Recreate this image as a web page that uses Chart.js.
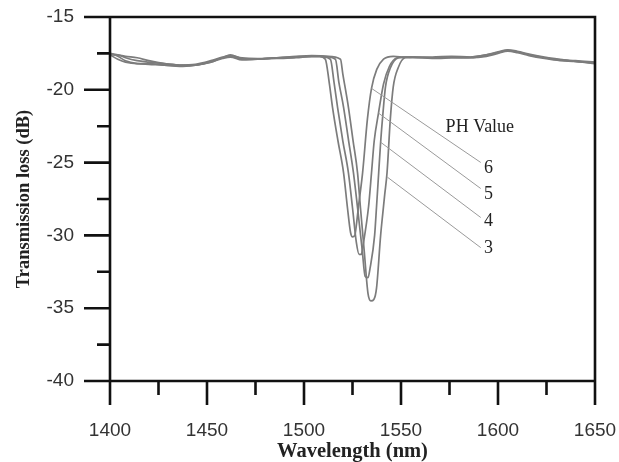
<!DOCTYPE html>
<html>
<head>
<meta charset="utf-8">
<script src="https://cdn.jsdelivr.net/npm/chart.js@4.4.1/dist/chart.umd.min.js"></script>
<style>
  html, body { margin: 0; padding: 0; background: #ffffff; }
  #wrap { width: 619px; height: 462px; }
</style>
</head>
<body>
<div id="wrap"><canvas id="c" width="619" height="462"></canvas></div>
<script>
// ---------------- DATA ----------------
const xTickValues = [1400, 1450, 1500, 1550, 1600, 1650];
const yTickValues = [-15, -20, -25, -30, -35, -40];
const seriesNames = ["6", "5", "4", "3"];

// PH 6
const ph6Wavelength = [1400, 1404, 1408, 1414, 1420, 1428, 1436, 1444, 1452, 1458, 1462, 1468, 1476, 1486, 1496, 1504,
  1508, 1511, 1513, 1514.7, 1517.5, 1520.4, 1522.4, 1524, 1525, 1526.2, 1526.8, 1528.1, 1530.2, 1532.7, 1534.8, 1537.5, 1541, 1546, 1551,
  1556, 1566, 1576, 1586, 1594, 1600, 1605, 1610, 1616, 1624, 1632, 1640, 1650];
const ph6Loss = [-17.6, -17.9, -18.1, -18.2, -18.2, -18.3, -18.35, -18.3, -18.1, -17.8, -17.7, -17.9, -17.9, -17.8, -17.75, -17.7,
  -17.7, -17.9, -19.5, -21.2, -23.5, -25.7, -28.1, -29.8, -30.1, -30.0, -29.5, -28.0, -25.7, -22.0, -19.9, -18.6, -17.9, -17.7, -17.75,
  -17.8, -17.8, -17.75, -17.8, -17.65, -17.45, -17.3, -17.4, -17.6, -17.8, -17.95, -18.0, -18.1];

// PH 5
const ph5Wavelength = [1400, 1404, 1408, 1414, 1420, 1428, 1436, 1444, 1452, 1458, 1462, 1468, 1476, 1486, 1496, 1504,
  1508, 1513.6, 1515.5, 1517.3, 1520, 1522.9, 1525, 1527, 1528.4, 1529.6, 1530.3, 1533.3, 1534.8, 1536.2, 1538.4, 1541, 1544, 1548, 1552,
  1556, 1566, 1576, 1586, 1594, 1600, 1605, 1610, 1616, 1624, 1632, 1640, 1650];
const ph5Loss = [-17.5, -17.7, -18.0, -18.2, -18.25, -18.3, -18.4, -18.3, -18.1, -17.85, -17.75, -17.95, -17.9, -17.85, -17.8, -17.7,
  -17.7, -17.9, -19.5, -21.2, -23.5, -25.7, -28.1, -30.5, -31.3, -31.3, -30.8, -28.0, -25.7, -23.5, -21.6, -19.6, -18.4, -17.8, -17.75,
  -17.75, -17.85, -17.8, -17.75, -17.6, -17.4, -17.25, -17.35, -17.55, -17.75, -17.9, -18.05, -18.15];

// PH 4
const ph4Wavelength = [1400, 1404, 1408, 1414, 1420, 1428, 1436, 1444, 1452, 1458, 1462, 1468, 1476, 1486, 1496, 1504,
  1510, 1516.2, 1518, 1520.4, 1523, 1525.5, 1527.6, 1530, 1531.5, 1533, 1534, 1536.4, 1537.4, 1538.5, 1539.5, 1540.7, 1542, 1544.5, 1548.8, 1553,
  1556, 1566, 1576, 1586, 1594, 1600, 1605, 1610, 1616, 1624, 1632, 1640, 1650];
const ph4Loss = [-17.6, -17.6, -17.8, -18.0, -18.1, -18.2, -18.3, -18.3, -18.05, -17.8, -17.6, -17.85, -17.9, -17.8, -17.75, -17.7,
  -17.7, -17.9, -19.5, -21.2, -23.5, -25.7, -28.1, -31.0, -32.8, -32.9, -32.3, -30.0, -28.0, -25.7, -23.6, -21.6, -19.8, -18.5, -17.8, -17.75,
  -17.75, -17.8, -17.8, -17.8, -17.7, -17.5, -17.35, -17.45, -17.65, -17.85, -18.0, -18.05, -18.2];

// PH 3
const ph3Wavelength = [1400, 1404, 1408, 1414, 1420, 1428, 1436, 1444, 1452, 1458, 1462, 1468, 1476, 1486, 1496, 1504,
  1512, 1518.8, 1520, 1522.9, 1525.3, 1527.6, 1529.1, 1531, 1533, 1534.5, 1536, 1537.4, 1539.5, 1540.6, 1541.6, 1542.8, 1544.5, 1546, 1548.5, 1552,
  1556, 1566, 1576, 1586, 1594, 1600, 1605, 1610, 1616, 1624, 1632, 1640, 1650];
const ph3Loss = [-17.5, -17.6, -17.7, -17.8, -18.0, -18.2, -18.3, -18.25, -18.0, -17.75, -17.65, -17.8, -17.85, -17.8, -17.7, -17.65,
  -17.7, -17.9, -18.9, -21.2, -23.5, -25.7, -28.1, -31.0, -34.0, -34.5, -34.4, -33.6, -30.0, -28.5, -27.2, -25.7, -22.0, -19.8, -18.5, -17.8,
  -17.75, -17.75, -17.7, -17.75, -17.6, -17.45, -17.3, -17.4, -17.6, -17.8, -17.95, -18.05, -18.15];

// Annotation (leader lines from each curve to its PH label)
const leaderStartWl = [1534.8, 1538.4, 1539.5, 1543.0];
const leaderStartLoss = [-19.9, -21.6, -23.6, -26.0];
const leaderEndWl = [1591.1, 1591.1, 1591.1, 1591.1];
const leaderEndLoss = [-24.99, -26.78, -28.77, -30.84];
const labelWl = 1592.8;
const labelLoss = [-25.4, -27.2, -29.05, -30.9];
const legendTitle = "PH Value";
const legendTitleWl = 1573;
const legendTitleLoss = -22.6;

// -------------- BUILD --------------
function pts(xs, ys) { return xs.map((v, i) => ({ x: v, y: ys[i] })); }
const seriesWl = [ph6Wavelength, ph5Wavelength, ph4Wavelength, ph3Wavelength];
const seriesLoss = [ph6Loss, ph5Loss, ph4Loss, ph3Loss];

const datasets = seriesNames.map((n, i) => ({
  label: "PH " + n,
  data: pts(seriesWl[i], seriesLoss[i]),
  borderColor: "#7c7c7c",
  borderWidth: 1.7,
  pointRadius: 0,
  fill: false,
  cubicInterpolationMode: "monotone"
}));

const X_MIN = 1400, X_MAX = 1650, Y_MIN = -40, Y_MAX = -15;

function zeroPad(s) { s.paddingTop = 0; s.paddingBottom = 0; s.paddingLeft = 0; s.paddingRight = 0; }

const framePlugin = {
  id: "frame",
  afterDatasetsDraw(chart) {
    const { ctx, scales: { x, y } } = chart;
    const L = x.getPixelForValue(X_MIN), R = x.getPixelForValue(X_MAX);
    const T = y.getPixelForValue(Y_MAX), B = y.getPixelForValue(Y_MIN);
    ctx.save();
    // leader lines
    ctx.strokeStyle = "#9a9a9a";
    ctx.lineWidth = 1;
    for (let i = 0; i < leaderStartWl.length; i++) {
      ctx.beginPath();
      ctx.moveTo(x.getPixelForValue(leaderStartWl[i]), y.getPixelForValue(leaderStartLoss[i]));
      ctx.lineTo(x.getPixelForValue(leaderEndWl[i]), y.getPixelForValue(leaderEndLoss[i]));
      ctx.stroke();
    }
    // labels
    ctx.fillStyle = "#222";
    ctx.font = "18px 'Liberation Serif', serif";
    ctx.textAlign = "left";
    ctx.textBaseline = "middle";
    ctx.fillText(legendTitle, x.getPixelForValue(legendTitleWl), y.getPixelForValue(legendTitleLoss));
    for (let i = 0; i < seriesNames.length; i++) {
      ctx.fillText(seriesNames[i], x.getPixelForValue(labelWl), y.getPixelForValue(labelLoss[i]));
    }
    // frame
    ctx.strokeStyle = "#111";
    ctx.lineWidth = 2.6;
    ctx.lineCap = "butt";
    ctx.beginPath();
    ctx.moveTo(L - 26, T); ctx.lineTo(R, T);
    ctx.moveTo(L - 26, B); ctx.lineTo(R, B);
    ctx.moveTo(L, T); ctx.lineTo(L, B + 24);
    ctx.moveTo(R, T - 1.3); ctx.lineTo(R, B + 24);
    // x ticks
    for (let v = X_MIN; v <= X_MAX; v += 25) {
      const px = x.getPixelForValue(v);
      const major = (v - X_MIN) % 50 === 0;
      ctx.moveTo(px, B); ctx.lineTo(px, B + (major ? 24 : 14));
    }
    // y ticks
    for (let v = Y_MIN; v <= Y_MAX; v += 2.5) {
      const py = y.getPixelForValue(v);
      const major = Math.abs((v - Y_MIN) % 5) < 1e-9;
      ctx.moveTo(L, py); ctx.lineTo(L - (major ? 26 : 13), py);
    }
    ctx.stroke();
    ctx.restore();
  }
};

new Chart(document.getElementById("c"), {
  type: "line",
  data: { datasets },
  options: {
    responsive: false,
    animation: false,
    events: [],
    layout: { autoPadding: false, padding: { top: 17, right: 24, left: 0, bottom: 0 } },
    plugins: { legend: { display: false }, tooltip: { enabled: false } },
    scales: {
      x: {
        type: "linear",
        min: X_MIN, max: X_MAX,
        afterBuildTicks: (s) => { s.ticks = xTickValues.map(v => ({ value: v })); },
        afterFit: (s) => { s.height = 81; zeroPad(s); },
        grid: { display: false },
        border: { display: false },
        ticks: {
          color: "#333",
          padding: 30,
          maxRotation: 0,
          callback: (v) => String(v),
          font: { family: "'Liberation Sans', Arial, sans-serif", size: 19 }
        },
        title: {
          display: true,
          text: "Wavelength (nm)",
          color: "#222",
          font: { family: "'Liberation Serif', serif", size: 20.5, weight: "bold" },
          padding: { top: 0, bottom: -2 }
        }
      },
      y: {
        type: "linear",
        min: Y_MIN, max: Y_MAX,
        afterBuildTicks: (s) => { s.ticks = yTickValues.map(v => ({ value: v })); },
        afterFit: (s) => { s.width = 110; zeroPad(s); },
        grid: { display: false },
        border: { display: false },
        ticks: {
          color: "#333",
          padding: 28,
          callback: (v) => String(v),
          font: { family: "'Liberation Sans', Arial, sans-serif", size: 19 }
        },
        title: {
          display: true,
          text: "Transmission loss (dB)",
          color: "#222",
          font: { family: "'Liberation Serif', serif", size: 18.5, weight: "bold" },
          padding: { top: 13, bottom: 0 }
        }
      }
    }
  },
  plugins: [framePlugin]
});
</script>
</body>
</html>
